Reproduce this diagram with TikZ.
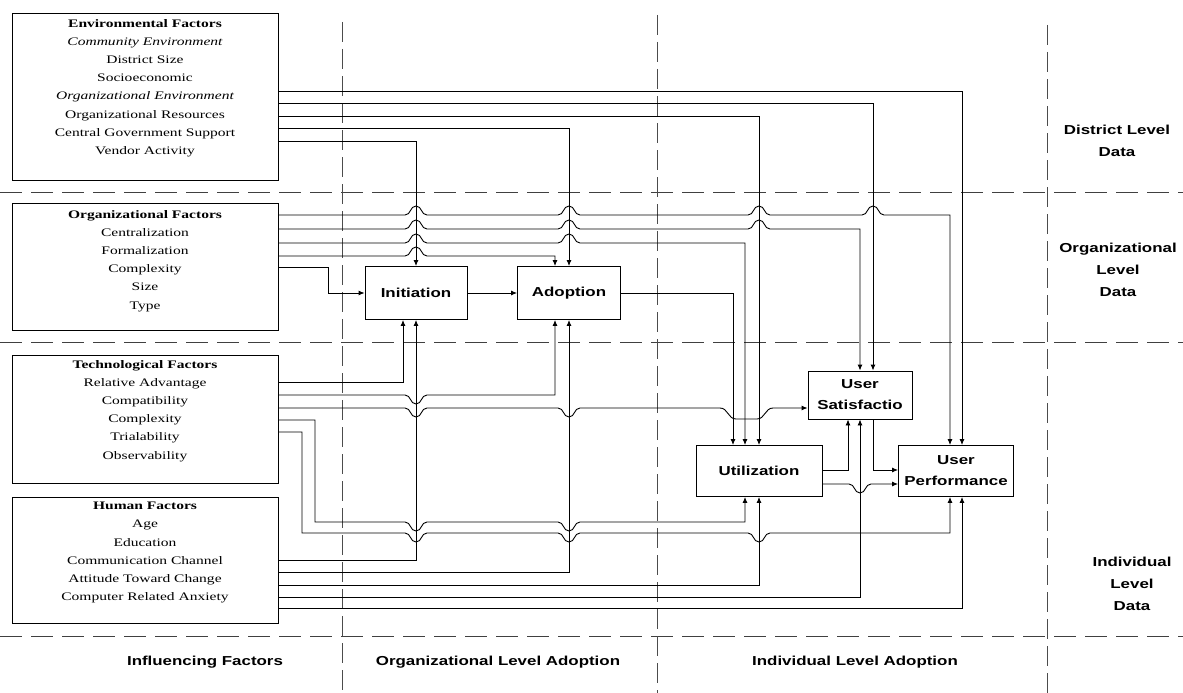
\documentclass[tikz,border=0pt]{standalone}
\usepackage{fontspec}
\usetikzlibrary{arrows.meta}
\newfontfamily\boxfont[FakeStretch=1.35]{Liberation Serif}
\newfontfamily\lblfont[FakeStretch=1.3]{Liberation Sans}
\begin{document}
\begin{tikzpicture}[x=1pt,y=-1pt,
  factorbox/.style={draw, line width=1.2pt, minimum width=266pt, inner sep=0pt, anchor=north west},
  factortext/.style={align=center, inner sep=0pt, anchor=north, font={\boxfont\fontsize{11.5}{18.2}\selectfont}},
  stagebox/.style={draw, line width=0.9pt, inner sep=0pt, align=center, font={\lblfont\bfseries\fontsize{13}{21}\selectfont}},
  region/.style={align=center, inner sep=0pt, font={\lblfont\bfseries\fontsize{13}{22}\selectfont}},
  conn/.style={line width=0.9pt, -{Latex[length=6pt,width=5pt]}},
  hsep/.style={line width=1pt, black!75, dash pattern=on 22pt off 9pt},
  vsep/.style={line width=1pt, black!70, dash pattern=on 20pt off 7pt},
  hopu/.style 2 args={insert path={-- ({#1-11},#2) .. controls ({#1-5},#2) and ({#1-6},{#2-9}) .. (#1,{#2-9}) .. controls ({#1+6},{#2-9}) and ({#1+5},#2) .. ({#1+11},#2)}},
  hopd/.style 2 args={insert path={-- ({#1-11},#2) .. controls ({#1-5},#2) and ({#1-6},{#2+9}) .. (#1,{#2+9}) .. controls ({#1+6},{#2+9}) and ({#1+5},#2) .. ({#1+11},#2)}}]
\fill[white] (0,0) rectangle (1183,693);
\useasboundingbox (0,0) rectangle (1183,693);

% separators
\draw[hsep] (0,192) -- (1183,192);
\draw[hsep] (0,342) -- (1183,342);
\draw[hsep] (0,636) -- (1183,636);
\draw[vsep] (342,22) -- (342,693);
\draw[vsep] (657,15) -- (657,693);
\draw[vsep] (1047,25) -- (1047,693);

% factor boxes
\node[factorbox, minimum height=167pt] (envbox) at (12,13) {};
\node[factorbox, minimum height=127pt] (orgbox) at (12,203) {};
\node[factorbox, minimum height=128pt] (techbox) at (12,355) {};
\node[factorbox, minimum height=126pt] (humbox) at (12,497) {};

\node[factortext] (envtext) at (145,19) {{\bfseries Environmental Factors}\\ {\itshape Community Environment}\\ District Size\\ Socioeconomic\\ {\itshape Organizational Environment}\\ Organizational Resources\\ Central Government Support\\ Vendor Activity};
\node[factortext] (orgtext) at (145,210) {{\bfseries Organizational Factors}\\ Centralization\\ Formalization\\ Complexity\\ Size\\ Type};
\node[factortext] (techtext) at (145,360) {{\bfseries Technological Factors}\\ Relative Advantage\\ Compatibility\\ Complexity\\ Trialability\\ Observability};
\node[factortext] (humtext) at (145,502) {{\bfseries Human Factors}\\ Age\\ Education\\ Communication Channel\\ Attitude Toward Change\\ Computer Related Anxiety};

% stage boxes
\node[stagebox, minimum width=102pt, minimum height=53pt] (init) at (416,293) {Initiation};
\node[stagebox, minimum width=103pt, minimum height=53pt] (adop) at (569,293) {Adoption};
\node[stagebox, minimum width=126pt, minimum height=51pt] (util) at (759,471) {Utilization};
\node[stagebox, minimum width=104pt, minimum height=48pt] (sat) at (860,395) {User\\Satisfactio};
\node[stagebox, minimum width=115pt, minimum height=51pt] (perf) at (956,471) {User\\Performance};

% region labels
\node[region] (lbldist) at (1117,141) {District Level\\Data};
\node[region] (lblorg) at (1118,270) {Organizational\\Level\\Data};
\node[region] (lblind) at (1132,584) {Individual\\Level\\Data};
\node[region] (lblinf) at (205,662) {Influencing Factors};
\node[region] (lblola) at (498,662) {Organizational Level Adoption};
\node[region] (lblila) at (855,662) {Individual Level Adoption};

% columns and rows
\coordinate (cA) at (403,0);
\coordinate (cB) at (416,0);
\coordinate (cC) at (555,0);
\coordinate (cD) at (569,0);
\coordinate (cE) at (733,0);
\coordinate (cF) at (745,0);
\coordinate (cG) at (759,0);
\coordinate (cH) at (848,0);
\coordinate (cI) at (860,0);
\coordinate (cJ) at (873,0);
\coordinate (cK) at (950,0);
\coordinate (cL) at (962,0);
\coordinate (r470) at (0,470);
\coordinate (r484) at (0,484);

% exit points
\coordinate (e1) at (278,91);
\coordinate (e2) at (278,103);
\coordinate (e3) at (278,116);
\coordinate (e4) at (278,128);
\coordinate (e5) at (278,141);
\coordinate (o1) at (278,215);
\coordinate (o2) at (278,229);
\coordinate (o3) at (278,243);
\coordinate (o4) at (278,256);
\coordinate (o5) at (278,267);
\coordinate (oturn) at (328,293);
\coordinate (t1) at (278,382);
\coordinate (t2) at (278,395);
\coordinate (t3) at (278,408);
\coordinate (t4) at (278,420);
\coordinate (t5) at (278,432);
\coordinate (t4turn) at (315,522);
\coordinate (t5turn) at (302,533);
\coordinate (h1) at (278,560);
\coordinate (h2) at (278,572);
\coordinate (h3) at (278,585);
\coordinate (h4) at (278,597);
\coordinate (h5) at (278,608);

% environmental
\draw[conn] (e1) -| (perf.north -| cL);
\draw[conn] (e2) -| (sat.north -| cJ);
\draw[conn] (e3) -| (util.north -| cG);
\draw[conn] (e4) -| (adop.north -| cD);
\draw[conn] (e5) -| (init.north -| cB);

% organizational
\draw[conn] (o1) [hopu={416}{215}] [hopu={569}{215}] [hopu={759}{215}] [hopu={873}{215}] -| (perf.north -| cK);
\draw[conn] (o2) [hopu={416}{229}] [hopu={569}{229}] [hopu={759}{229}] -| (sat.north -| cI);
\draw[conn] (o3) [hopu={416}{243}] [hopu={569}{243}] -| (util.north -| cF);
\draw[conn] (o4) [hopu={416}{256}] -| (adop.north -| cC);
\draw[conn] (o5) -| (oturn) -- (init.west);

% stage flow
\draw[conn] (init.east) -- (adop.west);
\draw[conn] (adop.east) -| (util.north -| cE);

% technological
\draw[conn] (t1) -| (init.south -| cA);
\draw[conn] (t2) [hopd={416}{395}] -| (adop.south -| cC);
\draw[conn] (t3) [hopd={416}{408}] [hopd={569}{408}] -- (720,408) .. controls (728,408) and (728,419) .. (736,419) -- (757,419) .. controls (765,419) and (765,408) .. (773,408) -- (sat.west |- t3);
\draw[conn] (t4) -| (t4turn) [hopd={416}{522}] [hopd={569}{522}] -| (util.south -| cF);
\draw[conn] (t5) -| (t5turn) [hopd={416}{533}] [hopd={569}{533}] [hopd={759}{533}] -| (perf.south -| cK);

% human
\draw[conn] (h1) -| (init.south -| cB);
\draw[conn] (h2) -| (adop.south -| cD);
\draw[conn] (h3) -| (util.south -| cG);
\draw[conn] (h4) -| (sat.south -| cI);
\draw[conn] (h5) -| (perf.south -| cL);

% individual level links
\draw[conn] (util.east |- r470) -| (sat.south -| cH);
\draw[conn] (sat.south -| cJ) |- (perf.west |- r470);
\draw[conn] (util.east |- r484) [hopd={860}{484}] -- (perf.west |- r484);
\end{tikzpicture}
\end{document}
